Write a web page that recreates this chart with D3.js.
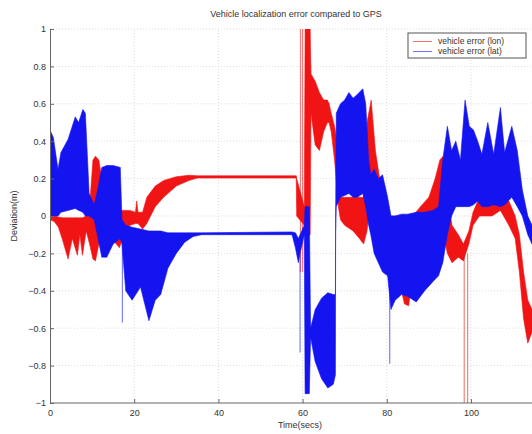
<!DOCTYPE html>
<html>
<head>
<meta charset="utf-8">
<script src="https://cdn.jsdelivr.net/npm/d3@7"></script>
<style>
	body { margin: 0; background: #fff; }
	svg text { font-family: "Liberation Sans", Arial, sans-serif; fill: #333; }
</style>
</head>
<body>
<div id="chart"></div>
<script>
// envelope of each error trace: [time, low, high]
let lonBand = [
	[0, -0.02, 0.0], [1, -0.03, 0.0], [2, -0.06, -0.005], [3, -0.13, -0.01],
	[4.3, -0.23, -0.01], [5.3, -0.12, -0.01], [6.5, -0.21, -0.01], [7.1, -0.1, -0.01],
	[7.7, -0.21, -0.01], [8.6, -0.08, 0.0], [9.4, -0.15, 0.05], [10.2, -0.23, 0.3],
	[10.8, -0.24, 0.32], [11.6, -0.15, 0.3], [12.3, -0.05, 0.2], [13, -0.1, 0.1],
	[15, -0.13, 0.05], [16.5, -0.17, 0.03], [17.5, -0.1, 0.03], [19, -0.05, 0.03],
	[20.3, -0.04, 0.02], [20.6, -0.04, 0.08], [20.9, -0.04, 0.02], [22, -0.07, 0.02],
	[23, -0.04, 0.1], [25, 0.05, 0.16], [27, 0.1, 0.19], [30, 0.16, 0.21],
	[33, 0.19, 0.218], [35, 0.203, 0.215], [58.5, 0.203, 0.215], [58.6, 0.0, 0.2],
	[60.4, -0.05, 0.05], [60.6, -0.1, 1.0], [61.8, -0.1, 1.0], [62, 0.55, 0.76],
	[63, 0.38, 0.72], [64, 0.35, 0.66], [65, 0.45, 0.62], [65.9, 0.5, 0.62],
	[66.3, 0.5, 0.6], [66.8, 0.45, 0.55], [67.6, 0.3, 0.48], [68.5, 0.05, 0.35],
	[69, -0.02, 0.1], [70, -0.05, 0.1], [72, -0.08, 0.1], [73.5, -0.12, 0.1],
	[74.5, -0.15, 0.1], [75.3, -0.08, 0.5], [76.3, 0.1, 0.62], [77.3, 0.15, 0.35],
	[78.3, 0.0, 0.2], [79.3, -0.12, 0.08], [80.5, -0.1, 0.0], [82, -0.12, 0.0],
	[83, -0.35, 0.0], [84.2, -0.47, 0.0], [85.2, -0.48, -0.05], [86.2, -0.3, 0.0],
	[88, -0.22, 0.05], [90, -0.1, 0.1], [91.5, -0.05, 0.2], [92.6, 0.0, 0.3],
	[93.4, -0.08, 0.32], [94.4, -0.2, 0.1], [95.5, -0.25, -0.05], [97, -0.22, -0.1],
	[98.2, -0.24, -0.15], [99.5, -0.15, -0.08], [100.5, -0.05, 0.02], [102, 0.0, 0.1],
	[105, 0.0, 0.12], [107, 0.03, 0.1], [109, -0.05, 0.08], [110.5, -0.12, 0.0],
	[111.5, -0.3, -0.1], [112.5, -0.55, -0.3], [113.5, -0.68, -0.45], [114.5, -0.62, -0.5]
];
let latBand = [
	[0, 0.0, 0.46], [0.8, 0.0, 0.42], [1.9, 0.0, 0.25], [2.6, 0.02, 0.34],
	[4.3, 0.03, 0.41], [6, 0.04, 0.53], [6.8, 0.03, 0.5], [7.8, 0.02, 0.57],
	[8.4, 0.0, 0.55], [9.3, 0.0, 0.12], [10.5, -0.02, 0.06], [11.4, -0.12, 0.15],
	[12.3, -0.22, 0.26], [13.5, -0.22, 0.27], [15, -0.15, 0.27], [16.7, -0.12, 0.26],
	[17.1, -0.15, -0.02], [18, -0.4, -0.05], [19.5, -0.45, -0.06], [21.5, -0.38, -0.07],
	[23.5, -0.56, -0.08], [25, -0.45, -0.08], [26.3, -0.42, -0.08], [28, -0.28, -0.09],
	[30, -0.2, -0.09], [32, -0.14, -0.09], [34, -0.11, -0.09], [36, -0.1, -0.09],
	[57.5, -0.1, -0.085], [58.3, -0.17, -0.09], [59, -0.25, -0.12], [59.4, -0.2, -0.1],
	[60.4, -0.1, -0.05], [60.6, -0.95, 0.05], [61.6, -0.95, 0.05], [61.9, -0.65, -0.6],
	[63, -0.78, -0.5], [64.5, -0.87, -0.44], [66, -0.92, -0.41], [67.3, -0.9, -0.42],
	[67.8, -0.85, -0.42], [67.85, -0.1, 0.0], [68, 0.05, 0.55], [69, 0.1, 0.6],
	[70, 0.11, 0.62], [71, 0.12, 0.66], [72, 0.1, 0.63], [73, 0.1, 0.65],
	[74.3, 0.12, 0.68], [75, 0.05, 0.6], [75.7, -0.05, 0.3], [76.2, -0.1, 0.22],
	[77, -0.2, 0.25], [78, -0.25, 0.2], [79, -0.3, 0.22], [80.2, -0.32, 0.1],
	[81, -0.5, 0.0], [82, -0.45, 0.0], [83.5, -0.42, 0.01], [85, -0.43, 0.01],
	[87, -0.46, 0.02], [89, -0.4, 0.02], [91, -0.35, 0.03], [92.3, -0.32, 0.05],
	[93.3, -0.25, 0.3], [94.4, -0.1, 0.48], [95.4, 0.0, 0.35], [96.4, 0.05, 0.4],
	[97.5, 0.05, 0.3], [98.6, 0.05, 0.62], [99.6, 0.05, 0.48], [100.6, 0.06, 0.46],
	[101.6, 0.08, 0.4], [102.6, 0.05, 0.33], [104, 0.05, 0.5], [105.4, 0.06, 0.33],
	[107, 0.05, 0.58], [108, 0.06, 0.34], [109.7, 0.1, 0.48], [111, 0.05, 0.35],
	[112.2, 0.0, 0.14], [113.5, -0.1, 0.0], [114.5, -0.15, -0.05]
];
// isolated thin excursions: [time, low, high]
let lonSpikes = [[59.5, -0.3, 1], [60.0, -0.3, 1], [98.4, -1, -0.2], [99.2, -1, -0.2]];
let latSpikes = [[17.2, -0.57, -0.1], [59.4, -0.73, -0.2], [80.7, -0.79, -0.3]];

let xTicks = [0, 20, 40, 60, 80, 100];
let yTicks = [-1, -0.8, -0.6, -0.4, -0.2, 0, 0.2, 0.4, 0.6, 0.8, 1];
let seriesNames = ['vehicle error (lon)', 'vehicle error (lat)'];

let WIDTH = 532;
let HEIGHT = 434;
let RED = '#f01414';
let BLUE = '#1414f0';

let svg = d3.select('#chart').append('svg')
	.attr('width', WIDTH)
	.attr('height', HEIGHT);

let x = d3.scaleLinear().domain([0, 114.5]).range([50, 532]);
let y = d3.scaleLinear().domain([-1, 1]).range([403, 29]);

svg.append('clipPath').attr('id', 'plot')
	.append('rect')
	.attr('x', x(0)).attr('y', y(1))
	.attr('width', x(114.5) - x(0)).attr('height', y(-1) - y(1));

// grid
let grid = svg.append('g');
grid.selectAll('.gx').data(xTicks.slice(1)).enter().append('line')
	.attr('x1', (d) => x(d)).attr('x2', (d) => x(d))
	.attr('y1', y(-1)).attr('y2', y(1))
	.attr('stroke', '#dcdcdc').attr('stroke-dasharray', '1,2');
grid.selectAll('.gy').data(yTicks.slice(1)).enter().append('line')
	.attr('x1', x(0)).attr('x2', WIDTH)
	.attr('y1', (d) => y(d)).attr('y2', (d) => y(d))
	.attr('stroke', '#dcdcdc').attr('stroke-dasharray', '1,2');

let area = d3.area()
	.x((d) => x(d[0]))
	.y0((d) => y(d[1]))
	.y1((d) => y(d[2]));

let plot = svg.append('g').attr('clip-path', 'url(#plot)');

let drawSeries = (band, spikes, color) => {
	plot.append('path')
		.datum(band)
		.attr('d', area)
		.attr('fill', color)
		.attr('stroke', color)
		.attr('stroke-width', 0.6);
	plot.selectAll(null).data(spikes).enter().append('line')
		.attr('x1', (d) => x(d[0])).attr('x2', (d) => x(d[0]))
		.attr('y1', (d) => y(d[1])).attr('y2', (d) => y(d[2]))
		.attr('stroke', color)
		.attr('stroke-opacity', 0.55)
		.attr('stroke-width', 1.2);
};
drawSeries(lonBand, lonSpikes, RED);
drawSeries(latBand, latSpikes, BLUE);

// axes
let xAxis = svg.append('g')
	.attr('transform', `translate(0,${y(-1)})`)
	.call(d3.axisBottom(x).tickValues(xTicks).tickSizeInner(-4).tickSizeOuter(0).tickPadding(7));
let yAxis = svg.append('g')
	.attr('transform', `translate(${x(0)},0)`)
	.call(d3.axisLeft(y).tickValues(yTicks).tickSizeInner(-4).tickSizeOuter(0).tickPadding(4)
		.tickFormat((d) => d3.format('')(+d.toFixed(1))));
[xAxis, yAxis].forEach((g) => {
	g.select('.domain').attr('stroke', '#666');
	g.selectAll('.tick line').attr('stroke', '#666');
	g.selectAll('.tick text').attr('font-size', 9).attr('fill', '#333');
});
xAxis.select('.domain').attr('d', `M${x(0)},0H${WIDTH}`);

// texts
svg.append('text')
	.attr('x', 296).attr('y', 17)
	.attr('text-anchor', 'middle')
	.attr('font-size', 9)
	.text('Vehicle localization error compared to GPS');
svg.append('text')
	.attr('x', 300).attr('y', 428)
	.attr('text-anchor', 'middle')
	.attr('font-size', 9)
	.text('Time(secs)');
svg.append('text')
	.attr('transform', `translate(17,${y(0)}) rotate(-90)`)
	.attr('text-anchor', 'middle')
	.attr('font-size', 9)
	.text('Deviation(m)');

// legend
let legend = svg.append('g').attr('transform', 'translate(408,33)');
legend.append('rect')
	.attr('width', 118).attr('height', 25)
	.attr('fill', '#fff').attr('stroke', '#555').attr('stroke-width', 1);
let item = legend.selectAll('.item').data(seriesNames).enter().append('g')
	.attr('transform', (d, i) => `translate(0,${8.5 + i * 10})`);
item.append('line')
	.attr('x1', 5).attr('x2', 24)
	.attr('stroke', (d, i) => i ? BLUE : RED)
	.attr('stroke-opacity', 0.6)
	.attr('stroke-width', 1);
item.append('text')
	.attr('x', 30).attr('dy', '0.35em')
	.attr('font-size', 8.5)
	.text((d) => d);
</script>
</body>
</html>
